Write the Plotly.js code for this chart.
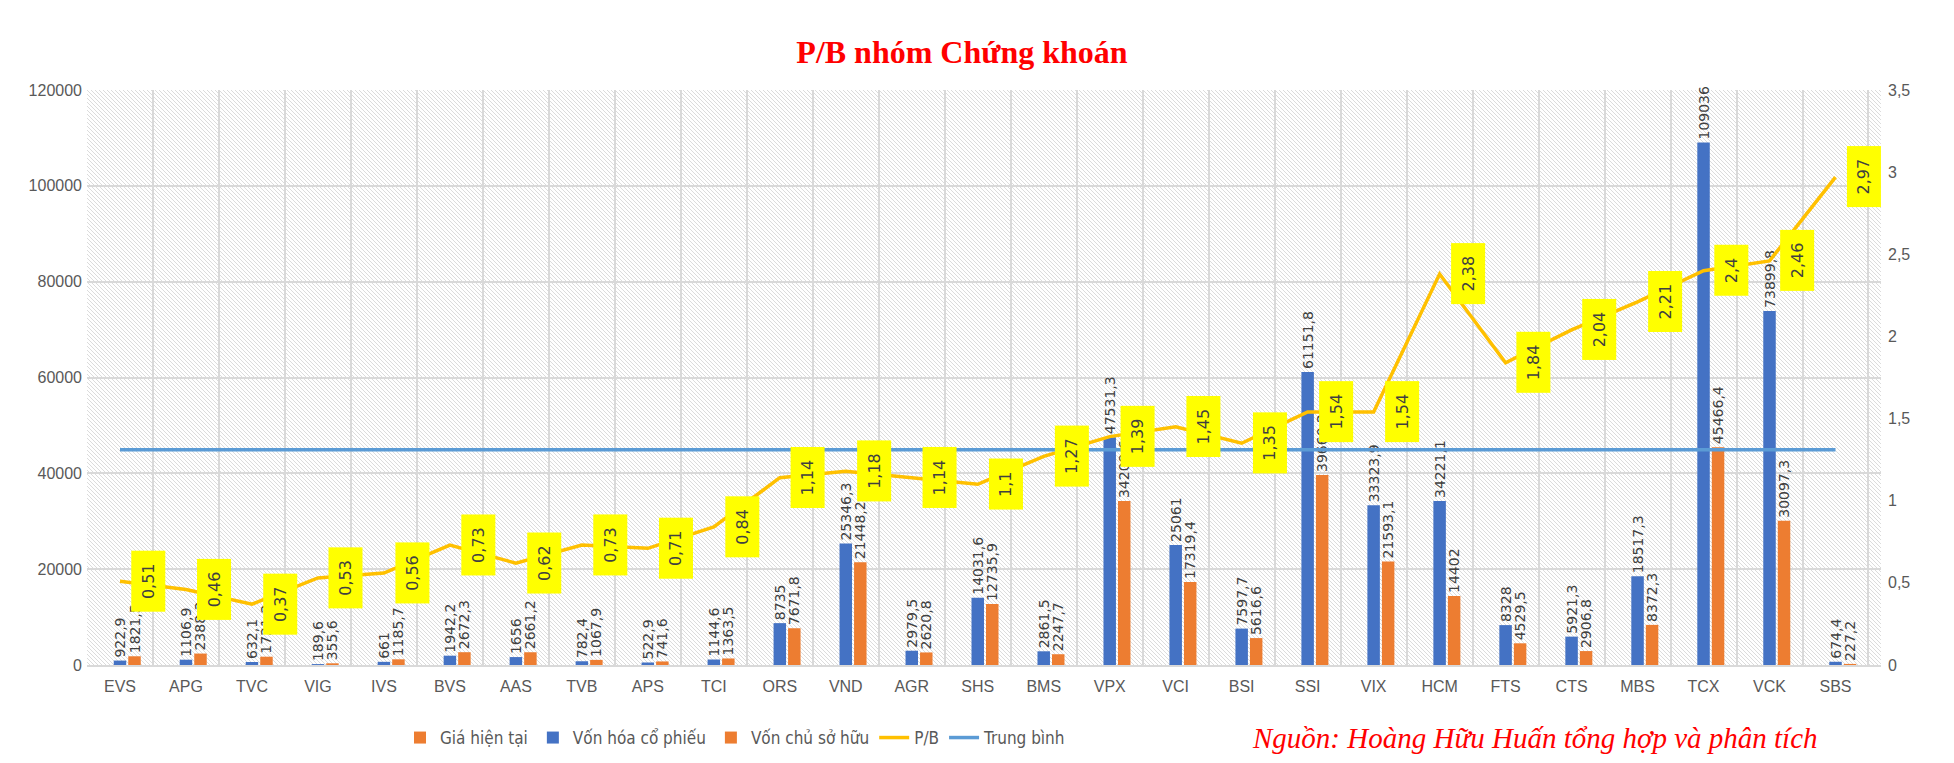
<!DOCTYPE html>
<html>
<head>
<meta charset="utf-8">
<script src="https://cdn.plot.ly/plotly-3.0.1.min.js"></script>
<style>
    body { margin: 0; background: #ffffff; }
    #wrap { position: relative; width: 1954px; height: 763px; }
    #hatch {
        position: absolute;
        background-color: #ffffff;
        background-image: url("data:image/svg+xml,%3Csvg xmlns='http://www.w3.org/2000/svg' width='4' height='4'%3E%3Cpath d='M-1,-1 L5,5 M-1,3 L1,5 M3,-1 L5,1' stroke='%23dcdcdc' stroke-width='1'/%3E%3C/svg%3E");
        background-repeat: repeat;
    }
    #chart { position: absolute; left: 0; top: 0; width: 1954px; height: 763px; }
</style>
</head>
<body>
<div id="wrap">
    <div id="hatch"></div>
    <div id="chart"></div>
</div>
<script>
let categories = ["EVS", "APG", "TVC", "VIG", "IVS", "BVS", "AAS", "TVB", "APS", "TCI", "ORS", "VND", "AGR", "SHS",
    "BMS", "VPX", "VCI", "BSI", "SSI", "VIX", "HCM", "FTS", "CTS", "MBS", "TCX", "VCK", "SBS"]

// Giá hiện tại: bars too small to see in the picture
let price = [0, 0, 0, 0, 0, 0, 0, 0, 0, 0, 0, 0, 0, 0, 0, 0, 0, 0, 0, 0, 0, 0, 0, 0, 0, 0, 0]
let marketCap = [922.9, 1106.9, 632.1, 189.6, 661, 1942.2, 1656, 782.4, 522.9, 1144.6, 8735, 25346.3, 2979.5, 14031.6,
    2861.5, 47531.3, 25061, 7597.7, 61151.8, 33323.9, 34221.1, 8328, 5921.3, 18517.3, 109036, 73899.8, 674.4]
let equity = [1821.5, 2388.3, 1731.2, 355.6, 1185.7, 2672.3, 2661.2, 1067.9, 741.6, 1363.5, 7671.8, 21448.2, 2620.8, 12735.9,
    2247.7, 34209.6, 17319.4, 5616.6, 39660.2, 21593.1, 14402, 4529.5, 2906.8, 8372.3, 45466.4, 30097.3, 227.2]
let pb = [0.51, 0.46, 0.37, 0.53, 0.56, 0.73, 0.62, 0.73, 0.71, 0.84, 1.14, 1.18, 1.14, 1.1, 1.27, 1.39, 1.45, 1.35,
    1.54, 1.54, 2.38, 1.84, 2.04, 2.21, 2.4, 2.46, 2.97]
let average = 1.31

let W = 1954, H = 763
let margin = { l: 87, r: 73, t: 90, b: 98 }

let hatch = document.getElementById("hatch")
hatch.style.left = margin.l + "px"
hatch.style.top = margin.t + "px"
hatch.style.width = (W - margin.l - margin.r) + "px"
hatch.style.height = (H - margin.t - margin.b) + "px"

function vn(v) {
    return String(v).replace(".", ",")
}

let labelFont = { family: "DejaVu Sans, Verdana, sans-serif", size: 14, color: "#404040" }
let tickFont = { family: "Liberation Sans, Arial, sans-serif", size: 16, color: "#595959" }

let priceTrace = {
    x: categories, y: price, type: "bar", name: "Giá hiện tại",
    marker: { color: "#ED7D31" }, hoverinfo: "skip"
}
let capTrace = {
    x: categories, y: marketCap, type: "bar", name: "Vốn hóa cổ phiếu",
    marker: { color: "#4472C4" },
    text: marketCap.map(vn), textposition: "outside", textangle: -90,
    textfont: labelFont, outsidetextfont: labelFont, constraintext: "none", cliponaxis: false
}
let equityTrace = {
    x: categories, y: equity, type: "bar", name: "Vốn chủ sở hữu",
    marker: { color: "#ED7D31" },
    text: equity.map(vn), textposition: "outside", textangle: -90,
    textfont: labelFont, outsidetextfont: labelFont, constraintext: "none", cliponaxis: false
}
let pbTrace = {
    x: categories, y: pb, type: "scatter", mode: "lines", name: "P/B", yaxis: "y2",
    line: { color: "#FFC000", width: 3.5 }
}
let avgTrace = {
    x: categories, y: categories.map(() => average), type: "scatter", mode: "lines", name: "Trung bình", yaxis: "y2",
    line: { color: "#5B9BD5", width: 3.5 }
}

// yellow P/B boxes next to each point
let pbLabels = categories.map((c, i) => ({
    x: c, y: pb[i], xref: "x", yref: "y2",
    text: " " + vn(pb[i]) + " ", textangle: -90, showarrow: false,
    xshift: 28, bgcolor: "#FFFF00", borderpad: 7,
    font: { family: "DejaVu Sans, Verdana, sans-serif", size: 16, color: "#404040" }
}))

let plotW = W - margin.l - margin.r
let plotH = H - margin.t - margin.b

let source = {
    text: "Nguồn: Hoàng Hữu Huấn tổng hợp và phân tích",
    xref: "paper", yref: "paper",
    x: (1250 - margin.l) / plotW, y: -(738 - (H - margin.b)) / plotH,
    xanchor: "left", yanchor: "middle", showarrow: false,
    font: { family: "Liberation Serif, Times New Roman, serif", size: 29, color: "#FF0000", style: "italic" }
}

let layout = {
    width: W, height: H,
    margin: { l: margin.l, r: margin.r, t: margin.t, b: margin.b, autoexpand: false },
    paper_bgcolor: "rgba(0,0,0,0)",
    plot_bgcolor: "rgba(0,0,0,0)",
    separators: ", ",
    title: {
        text: "<b>P/B nhóm Chứng khoán</b>",
        xref: "container", yref: "container", x: 962 / W, y: 1 - 52 / H, xanchor: "center", yanchor: "middle",
        font: { family: "Liberation Serif, Times New Roman, serif", size: 32, color: "#FF0000" }
    },
    barmode: "group",
    bargap: 0.34,
    bargroupgap: 0.14,
    xaxis: {
        type: "category", tickson: "boundaries", showgrid: true, gridcolor: "#d9d9d9", gridwidth: 2,
        showline: true, linecolor: "#d9d9d9", linewidth: 2, ticks: "", tickfont: tickFont, automargin: false,
        ticklabelstandoff: 6
    },
    yaxis: {
        range: [0, 120000], dtick: 20000, tickformat: "d", showgrid: true, gridcolor: "#d9d9d9", gridwidth: 2,
        zeroline: false, tickfont: tickFont, automargin: false, ticklabelstandoff: 4
    },
    yaxis2: {
        overlaying: "y", side: "right", range: [0, 3.5], dtick: 0.5, showgrid: false, zeroline: false,
        tickfont: tickFont, automargin: false, ticklabelstandoff: 6
    },
    showlegend: true,
    legend: {
        orientation: "h", xref: "paper", yref: "paper",
        x: (400 - margin.l) / plotW, y: -(738 - (H - margin.b)) / plotH, xanchor: "left", yanchor: "middle",
        font: { family: "Liberation Sans Narrow, DejaVu Sans Condensed, Arial, sans-serif", size: 17, color: "#595959" },
        bgcolor: "rgba(0,0,0,0)", itemwidth: 30, tracegroupgap: 0
    },
    annotations: pbLabels.concat([source])
}

Plotly.newPlot("chart", [priceTrace, capTrace, equityTrace, pbTrace, avgTrace], layout, { displayModeBar: false, staticPlot: true })
</script>
</body>
</html>
